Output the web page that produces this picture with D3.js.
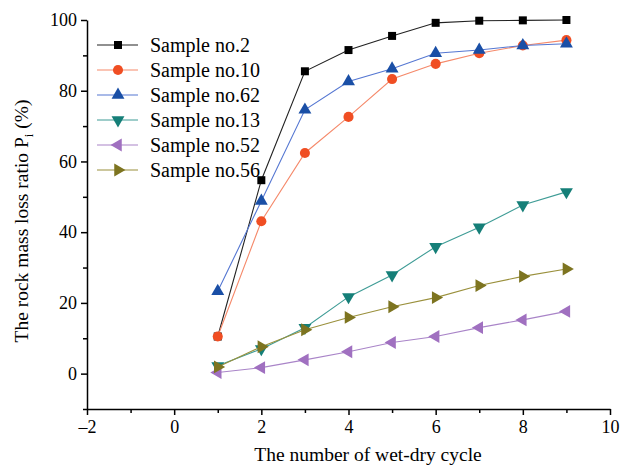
<!DOCTYPE html>
<html lang="en">
<head>
<meta charset="utf-8">
<title>Rock mass loss ratio vs wet-dry cycles</title>
<script src="https://d3js.org/d3.v7.min.js"></script>
<style>
    body { margin: 0; background: #fff; }
    svg text { font-family: "Liberation Serif", "DejaVu Serif", serif; fill: #000; }
    .axis path, .axis line { stroke: #000; stroke-width: 1.5px; }
    .axis text { font-size: 18px; }
</style>
</head>
<body>
<div id="chart"></div>
<script>
    // values
    const cycles = [1, 2, 3, 4, 5, 6, 7, 8, 9];
    const sample2  = [10.5, 54.7, 85.5, 91.5, 95.5, 99.2, 99.8, 99.9, 100];
    const sample10 = [10.5, 43.1, 62.4, 72.6, 83.3, 87.6, 90.6, 92.8, 94.3];
    const sample62 = [23.3, 48.8, 74.6, 82.6, 86.2, 90.6, 91.5, 92.8, 93.3];
    const sample13 = [2.2, 7.0, 13.0, 21.7, 27.9, 35.9, 41.4, 47.7, 51.4];
    const sample52 = [0.3, 1.7, 3.9, 6.2, 8.8, 10.5, 13.0, 15.2, 17.6];
    const sample56 = [1.9, 7.6, 12.4, 15.9, 18.9, 21.5, 24.9, 27.5, 29.6];

    const seriesNames = ["Sample no.2", "Sample no.10", "Sample no.62", "Sample no.13", "Sample no.52", "Sample no.56"];
    const seriesValues = [sample2, sample10, sample62, sample13, sample52, sample56];

    const xTicks = [-2, 0, 2, 4, 6, 8, 10];
    const xMinorTicks = [-1, 1, 3, 5, 7, 9];
    const yTicks = [0, 20, 40, 60, 80, 100];
    const yMinorTicks = [-10, 10, 30, 50, 70, 90];

    const markerColor = ["#000000", "#f04e23", "#1a4fa6", "#157f78", "#a070c0", "#7d7420"];
    const lineColor   = ["#222222", "#f5896a", "#5577d2", "#3f9c96", "#a984c8", "#9a903c"];
    // symbol type + rotation (deg) for each series
    const markerShape = [
        {type: d3.symbolSquare, size: 64, rot: 0},
        {type: d3.symbolCircle, size: 80, rot: 0},
        {type: d3.symbolTriangle, size: 72, rot: 0},
        {type: d3.symbolTriangle, size: 72, rot: 180},
        {type: d3.symbolTriangle, size: 72, rot: -90},
        {type: d3.symbolTriangle, size: 72, rot: 90}
    ];

    const serif = "'Liberation Serif', 'DejaVu Serif', serif";
    const W = 632, H = 466;
    const plot = {left: 87, right: 610, top: 20, bottom: 409};

    let svg = d3.select("#chart").append("svg")
        .attr("width", W)
        .attr("height", H)
        .attr("font-family", serif);

    let x = d3.scaleLinear().domain([-2, 10]).range([plot.left, plot.right]);
    let y = d3.scaleLinear().domain([-10, 100]).range([plot.bottom, plot.top]);

    // axes: major ticks with labels, minor ticks without
    svg.append("g")
        .attr("class", "axis")
        .attr("transform", "translate(0," + plot.bottom + ")")
        .call(d3.axisBottom(x).tickValues(xTicks).tickSizeInner(6).tickSizeOuter(0).tickPadding(5).tickFormat(d3.format("d")));
    svg.append("g")
        .attr("class", "axis")
        .attr("transform", "translate(0," + plot.bottom + ")")
        .call(d3.axisBottom(x).tickValues(xMinorTicks).tickSize(4).tickFormat(""))
        .select(".domain").remove();

    svg.append("g")
        .attr("class", "axis")
        .attr("transform", "translate(" + plot.left + ",0)")
        .call(d3.axisLeft(y).tickValues(yTicks).tickSizeInner(6).tickSizeOuter(0).tickPadding(4));
    svg.append("g")
        .attr("class", "axis")
        .attr("transform", "translate(" + plot.left + ",0)")
        .call(d3.axisLeft(y).tickValues(yMinorTicks).tickSize(4).tickFormat(""))
        .select(".domain").remove();

    svg.selectAll(".axis").attr("font-family", serif).attr("font-size", 18);
    // short dash as in the reference
    svg.selectAll(".axis text").text(function() { return d3.select(this).text().replace("−", "–"); });

    // axis titles
    svg.append("text")
        .attr("x", 368)
        .attr("y", 461)
        .attr("text-anchor", "middle")
        .style("font-size", "19.5px")
        .text("The number of wet-dry cycle");

    let yTitle = svg.append("text")
        .attr("transform", "translate(28,221) rotate(-90)")
        .attr("text-anchor", "middle")
        .style("font-size", "19.5px");
    yTitle.append("tspan").text("The  rock mass loss ratio P");
    yTitle.append("tspan").attr("dy", 5).style("font-size", "13px").text("i");
    yTitle.append("tspan").attr("dy", -5).text(" (%)");

    let line = d3.line()
        .x(function(d) { return x(d.x); })
        .y(function(d) { return y(d.y); });

    let symbol = function(i) {
        return d3.symbol().type(markerShape[i].type).size(markerShape[i].size)();
    };

    let series = seriesNames.map(function(name, i) {
        return {name: name, i: i, data: cycles.map(function(c, k) { return {x: c, y: seriesValues[i][k]}; })};
    });

    let groups = svg.selectAll(".series")
        .data(series)
        .enter().append("g")
        .attr("class", "series");

    groups.append("path")
        .attr("d", function(d) { return line(d.data); })
        .attr("fill", "none")
        .attr("stroke", function(d) { return lineColor[d.i]; })
        .attr("stroke-width", 1.1);

    groups.each(function(s) {
        d3.select(this).selectAll(".pt")
            .data(s.data)
            .enter().append("path")
            .attr("class", "pt")
            .attr("d", symbol(s.i))
            .attr("transform", function(d) {
                return "translate(" + x(d.x) + "," + y(d.y) + ") rotate(" + markerShape[s.i].rot + ")";
            })
            .attr("fill", markerColor[s.i]);
    });

    // legend
    let legend = svg.append("g").attr("class", "legend");
    let rows = legend.selectAll("g")
        .data(series)
        .enter().append("g")
        .attr("transform", function(d) { return "translate(0," + (45 + d.i * 25) + ")"; });
    rows.append("line")
        .attr("x1", 97).attr("x2", 138)
        .attr("stroke", function(d) { return lineColor[d.i]; })
        .attr("stroke-width", 1.1);
    rows.append("path")
        .attr("d", function(d) { return symbol(d.i); })
        .attr("transform", function(d) { return "translate(118,0) rotate(" + markerShape[d.i].rot + ")"; })
        .attr("fill", function(d) { return markerColor[d.i]; });
    rows.append("text")
        .attr("x", 150)
        .attr("y", 6.5)
        .style("font-size", "20px")
        .text(function(d) { return d.name; });
</script>
</body>
</html>
